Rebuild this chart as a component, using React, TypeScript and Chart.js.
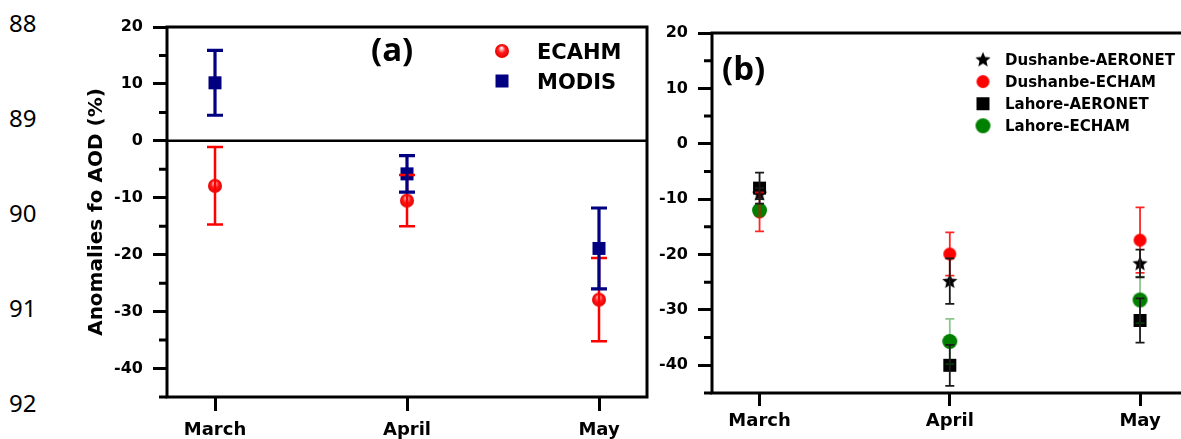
import React, { useEffect, useRef } from 'react';
import { Chart, registerables } from 'chart.js';
Chart.register(...registerables);

// ---------- data ----------
const months = ['March', 'April', 'May'];
const lineNumbers = ['88', '89', '90', '91', '92'];
const yAxisTitle = 'Anomalies fo AOD (%)';

// panel (a)
const ecahmMean = [-7.9, -10.5, -27.9];
const ecahmErr = [6.8, 4.5, 7.3];
const modisMean = [10.2, -5.8, -18.9];
const modisErr = [5.7, 3.2, 7.1];

// panel (b)
const dushAeroMean = [-9.0, -24.8, -21.6];
const dushAeroErr = [1.0, 4.1, 2.5];
const dushEchamMean = [-12.3, -19.9, -17.4];
const dushEchamErr = [3.5, 3.9, 5.9];
const lahAeroMean = [-8.0, -40.0, -31.9];
const lahAeroErr = [2.8, 3.7, 4.0];
const lahEchamMean = [-12.0, -35.7, -28.2];
const lahEchamErr = [1.0, 4.1, 4.2];

// ---------- styling helpers ----------
const FONT = '"DejaVu Sans", sans-serif';
const LABEL_FONT = '"Open Sans", sans-serif';

function makeCanvas(size: number, draw: (g: CanvasRenderingContext2D, s: number) => void) {
  const c = document.createElement('canvas');
  c.width = size;
  c.height = size;
  const g = c.getContext('2d')!;
  draw(g, size);
  return c;
}
function sphere(d: number) {
  return makeCanvas(d + 2, (g, s) => {
    const c = s / 2, r = d / 2;
    const grad = g.createRadialGradient(c - 0.5, c - r * 0.45, 0.3, c, c, r);
    grad.addColorStop(0, '#ffffff');
    grad.addColorStop(0.22, '#ff9a9a');
    grad.addColorStop(0.5, '#ff1c1c');
    grad.addColorStop(1, '#e60000');
    g.fillStyle = grad;
    g.beginPath();
    g.arc(c, c, r, 0, Math.PI * 2);
    g.fill();
  });
}
function disc(d: number, color: string) {
  return makeCanvas(d + 2, (g, s) => {
    g.fillStyle = color;
    g.beginPath();
    g.arc(s / 2, s / 2, d / 2, 0, Math.PI * 2);
    g.fill();
  });
}
function square(d: number, color: string) {
  return makeCanvas(d + 2, (g, s) => {
    g.fillStyle = color;
    g.fillRect((s - d) / 2, (s - d) / 2, d, d);
  });
}
function star(d: number, color: string) {
  return makeCanvas(d + 2, (g, s) => {
    const c = s / 2, R = d / 2, r = R * 0.45;
    g.fillStyle = color;
    g.beginPath();
    for (let k = 0; k < 10; k++) {
      const ang = -Math.PI / 2 + (k * Math.PI) / 5;
      const rad = k % 2 === 0 ? R : r;
      const px = c + rad * Math.cos(ang), py = c + 0.5 + rad * Math.sin(ang);
      if (k === 0) g.moveTo(px, py); else g.lineTo(px, py);
    }
    g.closePath();
    g.fill();
  });
}

function drawErr(chart: any, i: number) {
  const ds = chart.data.datasets[i];
  const errs: number[] = ds.errors;
  if (!errs) return;
  const { ctx, scales: { x, y } } = chart;
  ctx.save();
  ctx.strokeStyle = ds.errColor;
  ctx.lineWidth = ds.errWidth;
  ctx.lineCap = 'butt';
  ds.data.forEach((p: any, k: number) => {
    const px = x.getPixelForValue(p.x);
    const yt = y.getPixelForValue(p.y + errs[k]);
    const yb = y.getPixelForValue(p.y - errs[k]);
    const cap = ds.cap;
    ctx.beginPath();
    ctx.moveTo(px, yt); ctx.lineTo(px, yb);
    ctx.moveTo(px - cap, yt); ctx.lineTo(px + cap, yt);
    ctx.moveTo(px - cap, yb); ctx.lineTo(px + cap, yb);
    ctx.stroke();
  });
  ctx.restore();
}

function drawFrameAndMinor(chart: any) {
  const { ctx, chartArea: ca, scales: { y } } = chart;
  ctx.save();
  ctx.strokeStyle = '#000';
  ctx.lineWidth = 3;
  ctx.lineJoin = 'miter';
  ctx.strokeRect(ca.left, ca.top, ca.right - ca.left, ca.bottom - ca.top);
  ctx.beginPath();
  y.ticks.forEach((t: any) => {
    if (t.value % 10 !== 0) {
      const py = y.getPixelForValue(t.value);
      ctx.moveTo(ca.left - 8, py);
      ctx.lineTo(ca.left, py);
    }
  });
  ctx.stroke();
  ctx.restore();
}

function yScale(widthPx: number, withTitle: boolean): any {
  return {
    type: 'linear',
    min: -45,
    max: 20,
    afterFit: (s: any) => { s.width = widthPx; },
    ticks: {
      stepSize: 5,
      autoSkip: false,
      padding: 10,
      color: '#000',
      font: { family: FONT, weight: 'bold', size: 16 },
      callback: (v: number) => (v % 10 === 0 ? String(v) : ''),
    },
    grid: {
      drawOnChartArea: false,
      drawTicks: true,
      tickLength: 14,
      tickWidth: 3,
      tickColor: (c: any) => (c.tick && c.tick.value % 10 === 0 ? '#000' : 'rgba(0,0,0,0)'),
    },
    border: { display: false },
    title: withTitle
      ? {
          display: true,
          text: yAxisTitle,
          color: '#000',
          font: { family: FONT, weight: 'bold', size: 20 },
          padding: { top: 85, bottom: 0 },
        }
      : { display: false },
  };
}

function xScale(heightPx: number, tickLen: number, pad: number): any {
  return {
    type: 'linear',
    min: 0.75,
    max: 3.25,
    afterFit: (s: any) => { s.height = heightPx; },
    afterBuildTicks: (s: any) => { s.ticks = months.map((_, i) => ({ value: i + 1 })); },
    ticks: {
      autoSkip: false,
      maxRotation: 0,
      padding: pad,
      color: '#000',
      font: { family: FONT, weight: 'bold', size: 18 },
      callback: (v: number) => months[Math.round(v) - 1] ?? '',
    },
    grid: { drawOnChartArea: false, drawTicks: true, tickLength: tickLen, tickWidth: 3, tickColor: '#000' },
    border: { display: false },
  };
}

function pts(means: number[]) {
  return means.map((m, i) => ({ x: i + 1, y: m }));
}

function configA(): any {
  const sph = sphere(14);
  const navySq = square(13, '#000080');
  const plugin = {
    id: 'decoA',
    beforeDatasetsDraw(chart: any) {
      const { ctx, chartArea: ca, scales: { y } } = chart;
      ctx.save();
      ctx.strokeStyle = '#000';
      ctx.lineWidth = 2.5;
      const y0 = y.getPixelForValue(0);
      ctx.beginPath();
      ctx.moveTo(ca.left, y0);
      ctx.lineTo(ca.right, y0);
      ctx.stroke();
      ctx.restore();
      drawFrameAndMinor(chart);
    },
    afterDatasetsDraw(chart: any) {
      drawErr(chart, 0);
      drawErr(chart, 1);
    },
    afterDraw(chart: any) {
      const ctx = chart.ctx;
      ctx.save();
      ctx.fillStyle = '#000';
      ctx.textBaseline = 'alphabetic';
      ctx.textAlign = 'left';
      ctx.font = `bold 33px ${LABEL_FONT}`;
      ctx.fillText('(a)', 371, 61);
      const ds = chart.data.datasets;
      ctx.font = `bold 21px ${FONT}`;
      [51, 81].forEach((cy, i) => {
        const img = ds[i].pointStyle as HTMLCanvasElement;
        ctx.drawImage(img, 502 - img.width / 2, cy - img.height / 2);
        ctx.fillText(ds[i].label, 537, cy + 7.6);
      });
      ctx.restore();
    },
  };
  return {
    type: 'scatter',
    data: {
      datasets: [
        { label: 'ECAHM', data: pts(ecahmMean), pointStyle: sph, pointRadius: 7, errors: ecahmErr, errColor: '#ff0000', errWidth: 2.5, cap: 8 },
        { label: 'MODIS', data: pts(modisMean), pointStyle: navySq, pointRadius: 7, errors: modisErr, errColor: '#000080', errWidth: 3.2, cap: 8 },
      ],
    },
    options: {
      responsive: false,
      animation: false,
      events: [],
      layout: { padding: { left: 0, top: 27, right: 33, bottom: 0 } },
      plugins: { legend: { display: false }, tooltip: { enabled: false } },
      scales: { x: xScale(42, 14, 9), y: yScale(167, true) },
    },
    plugins: [plugin],
  };
}

function configB(): any {
  const OFF = 650;
  const starImg = star(16, '#000');
  const redDisc = disc(13, '#ff0000');
  const blackSq = square(13, '#000');
  const greenDisc = disc(15, '#008000');
  const plugin = {
    id: 'decoB',
    beforeDatasetsDraw(chart: any) {
      drawFrameAndMinor(chart);
    },
    afterDatasetsDraw(chart: any) {
      // green, red, star, square bars
      drawErr(chart, 2);
      drawErr(chart, 3);
      drawErr(chart, 1);
      drawErr(chart, 0);
    },
    afterDraw(chart: any) {
      const ctx = chart.ctx;
      ctx.save();
      ctx.fillStyle = '#000';
      ctx.textBaseline = 'alphabetic';
      ctx.textAlign = 'left';
      ctx.font = `bold 33px ${LABEL_FONT}`;
      ctx.fillText('(b)', 722 - OFF, 80);
      const ds = chart.data.datasets;
      const legendOrder = [1, 3, 0, 2];
      ctx.font = `bold 15px ${FONT}`;
      legendOrder.forEach((di, row) => {
        const cy = 59.5 + row * 22.1;
        const img = ds[di].pointStyle as HTMLCanvasElement;
        ctx.drawImage(img, 983 - OFF - img.width / 2, cy - img.height / 2);
        ctx.fillText(ds[di].label, 1005 - OFF, cy + 5.5);
      });
      ctx.restore();
    },
  };
  return {
    type: 'scatter',
    data: {
      datasets: [
        { label: 'Lahore-AERONET', data: pts(lahAeroMean), pointStyle: blackSq, pointRadius: 7, errors: lahAeroErr, errColor: '#1a1a1a', errWidth: 1.8, cap: 4.5 },
        { label: 'Dushanbe-AERONET', data: pts(dushAeroMean), pointStyle: starImg, pointRadius: 7, errors: dushAeroErr, errColor: '#1a1a1a', errWidth: 1.8, cap: 4.5 },
        { label: 'Lahore-ECHAM', data: pts(lahEchamMean), pointStyle: greenDisc, pointRadius: 7, errors: lahEchamErr, errColor: 'rgba(0,128,0,0.45)', errWidth: 1.8, cap: 4.5 },
        { label: 'Dushanbe-ECHAM', data: pts(dushEchamMean), pointStyle: redDisc, pointRadius: 7, errors: dushEchamErr, errColor: 'rgba(255,0,0,0.85)', errWidth: 1.8, cap: 4.5 },
      ],
    },
    options: {
      responsive: false,
      animation: false,
      events: [],
      layout: { padding: { left: 0, top: 33, right: 12.4, bottom: 0 } },
      plugins: { legend: { display: false }, tooltip: { enabled: false } },
      scales: { x: xScale(46, 13, 5), y: yScale(62, false) },
    },
    plugins: [plugin],
  };
}

export default function App() {
  const refA = useRef<HTMLCanvasElement>(null);
  const refB = useRef<HTMLCanvasElement>(null);
  useEffect(() => {
    let a: Chart | null = null;
    let b: Chart | null = null;
    let alive = true;
    const build = () => {
      if (!alive || !refA.current || !refB.current) return;
      a = new Chart(refA.current, configA());
      b = new Chart(refB.current, configB());
    };
    const fonts = (document as any).fonts;
    if (fonts && fonts.load) {
      Promise.all([
        fonts.load(`bold 16px ${FONT}`),
        fonts.load(`bold 33px ${LABEL_FONT}`),
      ])
        .catch(() => {})
        .then(build);
    } else build();
    return () => {
      alive = false;
      if (a) a.destroy();
      if (b) b.destroy();
    };
  }, []);

  return (
    <div style={{ position: 'fixed', left: 0, top: 0, width: 1181, height: 439, overflow: 'hidden', background: '#fff' }}>
      {lineNumbers.map((n, i) => (
        <div
          key={n}
          style={{
            position: 'absolute',
            left: 9,
            top: 23.5 + i * 95 - 12.7,
            font: '24px "Noto Sans", sans-serif',
            lineHeight: '24px',
            color: '#000',
          }}
        >
          {n}
        </div>
      ))}
      <canvas ref={refA} width={680} height={439} style={{ position: 'absolute', left: 0, top: 0 }} />
      <canvas ref={refB} width={550} height={439} style={{ position: 'absolute', left: 650, top: 0 }} />
    </div>
  );
}
